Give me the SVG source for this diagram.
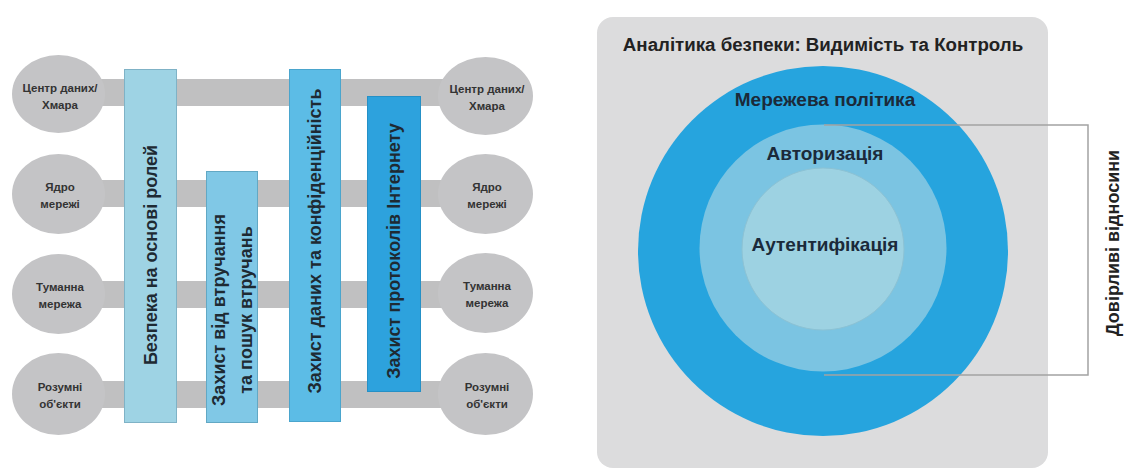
<svg xmlns="http://www.w3.org/2000/svg" width="1130" height="470" viewBox="0 0 1130 470">
  <style>
    .lbl { font-family: "Liberation Sans", Arial, sans-serif; font-weight: bold; }
    .ell { fill: #c4c4c6; }
    .etxt { font-size: 11.5px; fill: #333333; text-anchor: middle; }
    .vtxt { font-size: 18px; fill: #1e2a33; text-anchor: middle; dominant-baseline: central; }
    .ctxt { font-size: 19px; fill: #1b2a3a; text-anchor: middle; }
    .hbar { fill: #c0c0c1; }
  </style>
  <rect width="1130" height="470" fill="#ffffff"/>

  <!-- connectors: horizontal gray bars -->
  <g id="connectors">
    <rect class="hbar" x="58" y="79" width="428" height="27"/>
    <rect class="hbar" x="58" y="180" width="428" height="27"/>
    <rect class="hbar" x="58" y="281" width="428" height="27"/>
    <rect class="hbar" x="58" y="381" width="428" height="27"/>
  </g>

  <!-- left ellipses -->
  <g id="l-cloud"><ellipse class="ell" cx="58.5" cy="94" rx="46.5" ry="39"/>
    <text class="lbl etxt" x="60" y="92">Центр даних/</text><text class="lbl etxt" x="60" y="109">Хмара</text></g>
  <g id="l-core"><ellipse class="ell" cx="58.5" cy="194" rx="46.5" ry="40"/>
    <text class="lbl etxt" x="60" y="191">Ядро</text><text class="lbl etxt" x="60" y="208">мережі</text></g>
  <g id="l-fog"><ellipse class="ell" cx="58.5" cy="294" rx="46.5" ry="40"/>
    <text class="lbl etxt" x="60" y="291">Туманна</text><text class="lbl etxt" x="60" y="308">мережа</text></g>
  <g id="l-things"><ellipse class="ell" cx="58.5" cy="394" rx="46.5" ry="41"/>
    <text class="lbl etxt" x="60" y="391">Розумні</text><text class="lbl etxt" x="60" y="408">об'єкти</text></g>

  <!-- right ellipses -->
  <g id="r-cloud"><ellipse class="ell" cx="485.5" cy="96" rx="47.5" ry="39"/>
    <text class="lbl etxt" x="487" y="93">Центр даних/</text><text class="lbl etxt" x="487" y="110">Хмара</text></g>
  <g id="r-core"><ellipse class="ell" cx="485.5" cy="194" rx="47.5" ry="40"/>
    <text class="lbl etxt" x="487" y="191">Ядро</text><text class="lbl etxt" x="487" y="208">мережі</text></g>
  <g id="r-fog"><ellipse class="ell" cx="485.5" cy="293" rx="47.5" ry="40"/>
    <text class="lbl etxt" x="487" y="290">Туманна</text><text class="lbl etxt" x="487" y="307">мережа</text></g>
  <g id="r-things"><ellipse class="ell" cx="485.5" cy="394" rx="47.5" ry="41"/>
    <text class="lbl etxt" x="487" y="391">Розумні</text><text class="lbl etxt" x="487" y="408">об'єкти</text></g>

  <!-- vertical bars -->
  <g id="bar-roles">
    <rect x="124.5" y="69.5" width="52" height="353" fill="#9ed3e4" stroke="#7fb2c6" stroke-width="1"/>
    <text class="lbl vtxt" transform="translate(151,255) rotate(-90)">Безпека на основі ролей</text>
  </g>
  <g id="bar-intrusion">
    <rect x="206.5" y="171.5" width="51" height="251" fill="#80c8e6" stroke="#62a8c4" stroke-width="1"/>
    <text class="lbl vtxt" transform="translate(219,310) rotate(-90)">Захист від втручання</text>
    <text class="lbl vtxt" transform="translate(246,310) rotate(-90)">та пошук втручань</text>
  </g>
  <g id="bar-data">
    <rect x="289.5" y="69.5" width="51" height="352" fill="#5cbce6" stroke="#4aa5cd" stroke-width="1"/>
    <text class="lbl vtxt" transform="translate(315,241) rotate(-90)">Захист даних та конфіденційність</text>
  </g>
  <g id="bar-protocols">
    <rect x="367.5" y="96.5" width="53" height="295" fill="#2da2dd" stroke="#2590c6" stroke-width="1"/>
    <text class="lbl vtxt" transform="translate(394,251) rotate(-90)">Захист протоколів Інтернету</text>
  </g>

  <!-- right diagram -->
  <g id="analytics">
    <rect x="597" y="17" width="451" height="451" rx="16" fill="#dcdcdd"/>
    <text class="lbl" x="823" y="51" font-size="18.7" fill="#222222" text-anchor="middle">Аналітика безпеки: Видимість та Контроль</text>
  </g>
  <g id="network-policy">
    <circle cx="823" cy="251" r="185" fill="#26a4de"/>
    <text class="lbl ctxt" x="825" y="106">Мережева політика</text>
  </g>
  <g id="authorization">
    <circle cx="823" cy="248" r="123.5" fill="#7bc4e2"/>
    <text class="lbl ctxt" x="825" y="160">Авторизація</text>
  </g>
  <g id="authentication">
    <circle cx="823" cy="249" r="81" fill="#9dd2e2" stroke="#8cc2d4" stroke-width="1"/>
    <text class="lbl ctxt" x="825" y="251">Аутентифікація</text>
  </g>
  <g id="trust-bracket">
    <polyline points="824,125 1088,125 1088,375 824,375" fill="none" stroke="#a3a3a3" stroke-width="1.5"/>
  </g>
  <g id="trust">
    <text class="lbl" transform="translate(1113,243) rotate(-90)" font-size="18" fill="#222222" text-anchor="middle" dominant-baseline="central">Довірливі відносини</text>
  </g>
</svg>
